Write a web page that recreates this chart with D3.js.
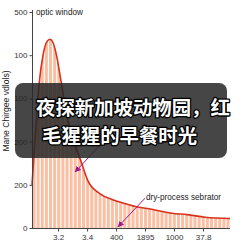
<!DOCTYPE html>
<html>
<head>
<meta charset="utf-8">
<script src="https://cdn.jsdelivr.net/npm/d3@7"></script>
<style>
  body { margin: 0; background: #fff; }
  svg { display: block; font-family: "Liberation Sans", Arial, sans-serif; }
</style>
</head>
<body>
<div id="chart"></div>
<script>
const W = 243, H = 243;

// x positions are in "tick units" (tick 1..6 carry the labels below)
const xTicks = [1, 2, 3, 4, 5, 6];
const xTickLabels = ["3.2", "3.4", "400", "1895", "1000", "37.8"];
const yTicks = [0, 100, 200, 300, 400, 500];
const yTickLabels = ["0", "200", "200", "100", "100", "500"];

// bar heights (one per stripe)
const barValues = [170, 305, 390, 428, 436, 418, 372, 315, 262, 222, 190, 163,
  135, 111, 98, 88, 79, 74, 69, 66, 62, 59, 57, 54, 51, 49, 47, 46, 44, 43,
  40, 38, 36, 34, 33, 32, 32, 31, 30, 28, 27, 26, 25, 24, 24, 23, 23, 22];

// fitted curve
const curveX = [0.10, 0.20, 0.34, 0.48, 0.62, 0.72, 0.82, 0.96, 1.10, 1.24, 1.34, 1.48,
  1.62, 1.76, 2.03, 2.45, 2.86, 3.24, 3.79, 4.27, 4.93, 5.45, 6.07, 6.93];
const curveY = [100, 200, 330, 400, 432, 437, 430, 395, 340, 285, 250, 215,
  185, 160, 109, 79, 66, 58, 48, 43, 34, 31, 25, 22];

const annotations = [
  { text: "optic window", x: 0.24, y: 500 },
  { text: "dry-process sebrator", x: 4.03, y: 71 }
];
const arrows = [
  { x1: 2.52, y1: 197, x2: 1.59, y2: 130 },
  { x1: 4.00, y1: 69, x2: 3.07, y2: 3 }
];
const captionLines = ["夜探新加坡动物园，红", "毛猩猩的早餐时光"];

const x = d3.scaleLinear().domain([0.1, 6.93]).range([32, 230]);
const y = d3.scaleLinear().domain([0, 500]).range([228, 12]);
const band = d3.scaleBand().domain(d3.range(barValues.length))
  .range([32, 230]).paddingInner(0.27).paddingOuter(0.12);

const svg = d3.select("#chart").append("svg")
  .attr("width", W).attr("height", H);

const defs = svg.append("defs");
const pts = curveX.map((d, i) => [d, curveY[i]]);

defs.append("clipPath").attr("id", "under")
  .append("path")
  .attr("d", d3.area().x(d => x(d[0])).y0(y(0)).y1(d => y(d[1]))
    .curve(d3.curveMonotoneX)(pts));

defs.append("marker").attr("id", "head")
  .attr("viewBox", "0 0 10 10").attr("refX", 9).attr("refY", 5)
  .attr("markerWidth", 6).attr("markerHeight", 6).attr("orient", "auto")
  .append("path").attr("d", "M0,0 L10,5 L0,10 Z").attr("fill", "#a0178f");

// stripes
svg.append("g").attr("clip-path", "url(#under)")
  .selectAll("rect").data(barValues).join("rect")
  .attr("x", (d, i) => band(i))
  .attr("width", band.bandwidth())
  .attr("y", d => y(d) - 6)
  .attr("height", d => y(0) - y(d) + 6)
  .attr("fill", "#fbbfa3");

svg.append("path")
  .attr("d", d3.line().x(d => x(d[0])).y(d => y(d[1])).curve(d3.curveMonotoneX)(pts))
  .attr("fill", "none").attr("stroke", "#d8321d").attr("stroke-width", 1.6);

// axes
const yAxis = d3.axisLeft(y).tickValues(yTicks).tickSize(3).tickPadding(2)
  .tickFormat((d, i) => yTickLabels[i]);
const gy = svg.append("g").attr("transform", "translate(32.5,0)").call(yAxis);
gy.select(".domain").attr("d", "M0,10V228.5").attr("stroke", "#444");

const xAxis = d3.axisBottom(x).tickValues(xTicks).tickSize(3).tickPadding(3)
  .tickFormat((d, i) => xTickLabels[i]);
const gx = svg.append("g").attr("transform", "translate(0,228.5)").call(xAxis);
gx.select(".domain").attr("d", "M32,0H230").attr("stroke", "#444");

svg.selectAll(".tick line").attr("stroke", "#444");
svg.selectAll(".tick text").attr("font-size", 8).attr("fill", "#333")
  .attr("font-family", "'Liberation Sans', Arial, sans-serif");

svg.append("text")
  .attr("transform", "translate(9,111) rotate(-90)")
  .attr("text-anchor", "middle")
  .attr("font-size", 8.6).attr("fill", "#222")
  .text("Mane Chirgee vdlols)");

svg.selectAll(".note").data(annotations).join("text")
  .attr("class", "note")
  .attr("x", d => x(d.x)).attr("y", d => y(d.y) + 3)
  .attr("font-size", 8.2).attr("fill", "#222")
  .text(d => d.text);

svg.selectAll(".arrow").data(arrows).join("line")
  .attr("class", "arrow")
  .attr("x1", d => x(d.x1)).attr("y1", d => y(d.y1))
  .attr("x2", d => x(d.x2)).attr("y2", d => y(d.y2))
  .attr("stroke", "#a0178f").attr("stroke-width", 1)
  .attr("marker-end", "url(#head)");

// caption overlay
svg.append("rect")
  .attr("x", 15).attr("y", 83).attr("width", 212).attr("height", 75)
  .attr("rx", 8).attr("fill", "rgba(38,38,38,0.85)");

svg.selectAll(".cap").data(captionLines).join("text")
  .attr("class", "cap")
  .attr("x", (d, i) => i ? 42 : 36)
  .attr("y", (d, i) => i ? 143 : 115)
  .attr("font-family", "'Noto Sans CJK SC', sans-serif")
  .attr("font-weight", 700).attr("font-size", 19.4)
  .attr("fill", "#fff").attr("stroke", "#000").attr("stroke-width", 2.6)
  .attr("paint-order", "stroke").attr("stroke-linejoin", "round")
  .text(d => d);
</script>
</body>
</html>
